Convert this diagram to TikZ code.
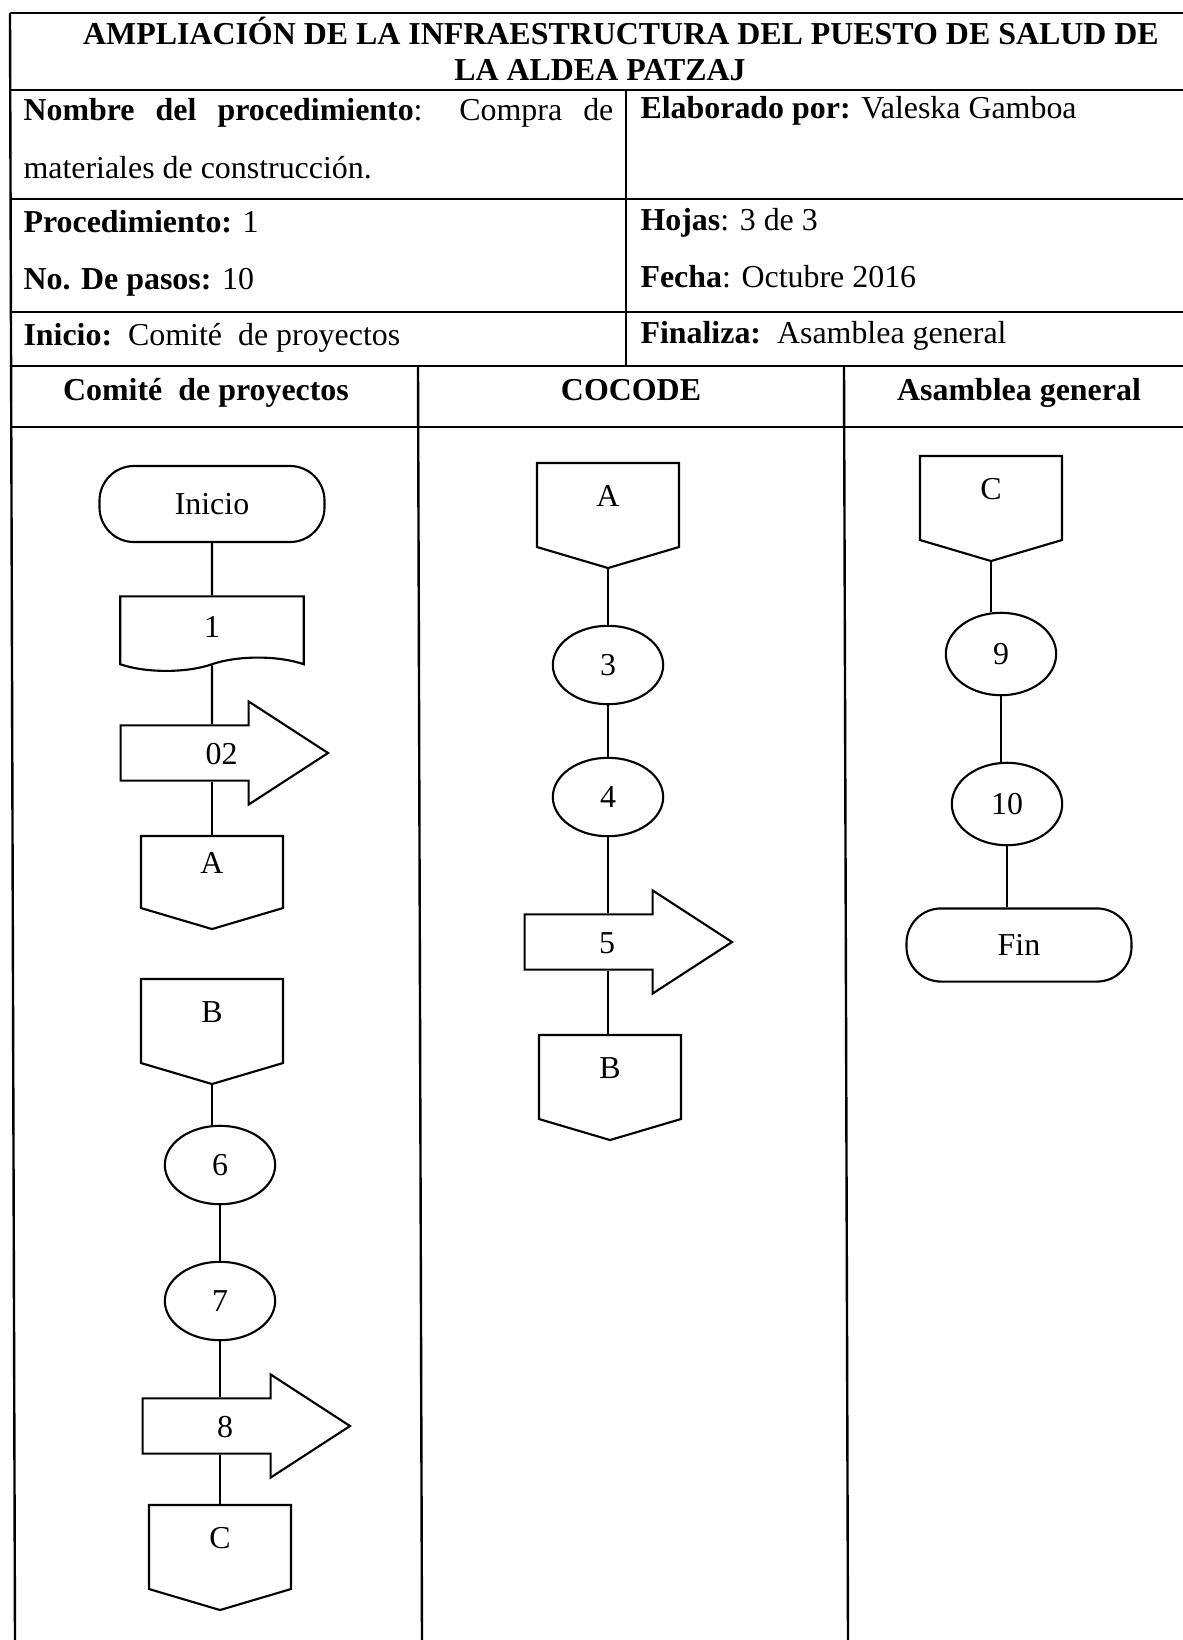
\documentclass[tikz,border=0pt]{standalone}
\usepackage{fontspec}
\setmainfont{Liberation Serif}
\usetikzlibrary{shapes.geometric,shapes.symbols,shapes.arrows}
\tikzset{
      shapeline/.style={
        draw=black,
        line width=0.8pt
      },
      terminal/.style={
        shapeline,
        rounded corners=13pt,
        minimum width=84.6pt,
        minimum height=28.6pt,
        inner sep=0pt
      },
      activity/.style={
        shapeline,
        ellipse,
        minimum width=41.5pt,
        minimum height=29.5pt,
        inner sep=0pt
      },
      docbox/.style={
        shapeline,
        tape,
        tape bend top=none,
        tape bend bottom=in and out,
        tape bend height=5pt,
        minimum width=69pt,
        minimum height=28pt,
        inner sep=0pt
      },
      transport/.style={
        shapeline,
        single arrow,
        single arrow head extend=9pt,
        single arrow tip angle=66,
        minimum height=78pt,
        text height=8.5pt,
        text depth=0pt,
        inner xsep=2pt,
        inner ysep=5.75pt
      },
      offpage/.style={
        minimum width=53pt,
        minimum height=31.2pt,
        text height=8.5pt,
        text depth=7.6pt,
        inner sep=0pt
      },
      tablerule/.style={line width=0.9pt},
      celltext/.style={anchor=base west, inner sep=0pt},
      lanehead/.style={anchor=base, inner sep=0pt, font=\fontsize{12}{14.5}\selectfont\bfseries}
    }

\begin{document}
\begin{tikzpicture}[x=0.376pt,y=-0.376pt,font=\fontsize{12}{14.5}\selectfont]
    \useasboundingbox (0,0) rectangle (1183,1640);
    \clip (0,0) rectangle (1183,1640);
    % table frame
    \draw[tablerule] (10,13) -- (1200,13);
    \foreach \y in {90,199,312,366,427}
      \draw[tablerule] (10,\y) -- (1200,\y);
    \draw[tablerule] (10,13) -- (15,1640);
    \draw[tablerule] (626,90) -- (626,366);
    \draw[tablerule] (418,366) -- (422,1640);
    \draw[tablerule] (844,366) -- (848,1640);
    % header cells
    \node[anchor=base, inner sep=0pt, font=\fontsize{12}{14.5}\selectfont\bfseries] (title1) at (621,44) {AMPLIACIÓN DE LA INFRAESTRUCTURA DEL PUESTO DE SALUD DE};
    \node[anchor=base, inner sep=0pt, font=\fontsize{12}{14.5}\selectfont\bfseries] (title2) at (600,80) {LA ALDEA PATZAJ};
    \node[celltext] (nombre) at (23,120) {\makebox[221.8pt][s]{\textbf{Nombre del procedimiento}: Compra de}};
    \node[celltext] (material) at (23,178) {materiales de construcción.};
    \node[celltext] (elaborado) at (640,118) {\textbf{Elaborado por:} Valeska Gamboa};
    \node[celltext] (proc) at (23,232) {\textbf{Procedimiento:} 1};
    \node[celltext] (pasos) at (23,289) {\textbf{No. De pasos:} 10};
    \node[celltext] (hojas) at (640,230) {\textbf{Hojas}: 3 de 3};
    \node[celltext] (fecha) at (640,287) {\textbf{Fecha}: Octubre 2016};
    \node[celltext] (inicio) at (23,345) {\textbf{Inicio:}\ \ Comité\ \ de proyectos};
    \node[celltext] (finaliza) at (640,343) {\textbf{Finaliza:}\ \ Asamblea general};
    \node[lanehead] (h1) at (206,400) {Comité\ \ de proyectos};
    \node[lanehead] (h2) at (631,400) {COCODE};
    \node[lanehead] (h3) at (1019,400) {Asamblea general};
    % lane 1
    \node[terminal] (ini) at (212,504) {Inicio};
    \node[docbox] (d1) at (212,627) {1};
    \node[transport] (a02) at (203,753) {\hspace*{14pt}02};
    \node[offpage, minimum height=26.7pt] (a1) at (212,872) {A};
    \node[offpage] (b1) at (212,1021) {B};
    \node[activity] (n6) at (220,1165) {6};
    \node[activity] (n7) at (220,1301) {7};
    \node[transport] (a8) at (225,1426) {8};
    \node[offpage] (c1) at (220,1547) {C};
    % lane 2
    \node[offpage] (a2) at (608,505) {A};
    \node[activity] (n3) at (608,665) {3};
    \node[activity] (n4) at (608,797) {4};
    \node[transport] (a5) at (607,942) {5};
    \node[offpage] (b2) at (610,1077) {B};
    % lane 3
    \node[offpage] (c3) at (991,498) {C};
    \node[activity, minimum height=31pt] (n9) at (1001,654) {9};
    \node[activity, minimum height=31pt] (n10) at (1007,804) {10};
    \node[terminal, minimum height=27.5pt] (fin) at (1019,945) {Fin};
    % off-page connector outlines
    \foreach \n in {a1,b1,c1,a2,b2,c3}
      \draw[shapeline] (\n.north west) -- (\n.north east) -- (\n.south east)
        -- ([yshift=-7.9pt]\n.south) coordinate (\n-tip) -- (\n.south west) -- cycle;
    % connectors
    \draw[shapeline] (ini) -- (d1);
    \draw[shapeline] (d1) -- (d1 |- a02.north);
    \draw[shapeline] (d1 |- a02.south) -- (a1);
    \draw[shapeline] (b1-tip) -- (b1-tip |- n6.north);
    \draw[shapeline] (n6) -- (n7);
    \draw[shapeline] (n7) -- (n7 |- a8.north);
    \draw[shapeline] (n7 |- a8.south) -- (c1);
    \draw[shapeline] (a2-tip) -- (n3);
    \draw[shapeline] (n3) -- (n4);
    \draw[shapeline] (n4) -- (n4 |- a5.north);
    \draw[shapeline] (n4 |- a5.south) -- (n4 |- b2.north);
    \draw[shapeline] (c3-tip) -- (c3-tip |- n9.north);
    \draw[shapeline] (n9) -- (n9 |- n10.north);
    \draw[shapeline] (n10) -- (n10 |- fin.north);
\end{tikzpicture}
\end{document}
